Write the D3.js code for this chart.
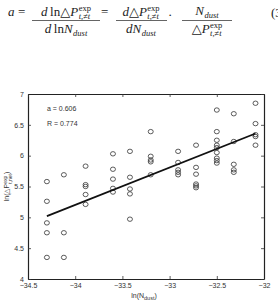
<!DOCTYPE html>
<html>
<head>
<meta charset="utf-8">
<script src="https://cdn.jsdelivr.net/npm/d3@7"></script>
<style>
  body { margin: 0; background: #fff; }
  svg { display: block; }
</style>
</head>
<body>
<svg width="278" height="305"></svg>
<script>
// ln(N_dust) columns and ln(dP) values
var lnN = [
  -34.30, -34.30, -34.30, -34.30, -34.30,
  -34.12, -34.12, -34.12,
  -33.89, -33.89, -33.89, -33.89, -33.89,
  -33.60, -33.60, -33.60, -33.60, -33.60,
  -33.42, -33.42, -33.42, -33.42, -33.42,
  -33.20, -33.20, -33.20, -33.20, -33.20,
  -32.91, -32.91, -32.91, -32.91, -32.91,
  -32.72, -32.72, -32.72, -32.72, -32.72, -32.72,
  -32.50, -32.50, -32.50, -32.50, -32.50, -32.50, -32.50, -32.50, -32.50,
  -32.32, -32.32, -32.32, -32.32, -32.32,
  -32.09, -32.09, -32.09, -32.09, -32.09
];
var lnP = [
  5.58, 5.26, 4.91, 4.75, 4.35,
  5.69, 4.75, 4.35,
  5.83, 5.53, 5.50, 5.37, 5.21,
  6.03, 5.78, 5.62, 5.47, 5.41,
  6.07, 5.65, 5.46, 5.38, 4.97,
  6.39, 5.99, 5.93, 5.90, 5.69,
  6.07, 5.89, 5.77, 5.73, 5.69,
  6.17, 5.81, 5.70, 5.54, 5.51, 5.48,
  6.74, 6.39, 6.25, 6.17, 6.13, 6.05, 5.96, 5.92, 5.88,
  6.68, 6.23, 5.86, 5.77, 5.73,
  6.85, 6.52, 6.34, 6.31, 6.17
];

var fitRange = [-34.30, -32.09];
var slope = 0.606;
var intercept = 25.806;
var notes = ['a = 0.606', 'R = 0.774'];

var xTicks = [-34.5, -34, -33.5, -33, -32.5, -32];
var yTicks = [4, 4.5, 5, 5.5, 6, 6.5, 7];

var svg = d3.select('svg');

// ---- equation at the top ----
var serif = 'Liberation Serif, DejaVu Serif, serif';
var eq = svg.append('g').attr('font-family', serif).attr('fill', '#222');
var FS = 13, SS = 8.5;

function measure(str, size, italic) {
  var t = eq.append('text').attr('font-size', size)
    .attr('font-style', italic ? 'italic' : 'normal').text(str);
  var w = t.node().getComputedTextLength();
  t.remove();
  return w;
}

function tokenWidth(tok) {
  var w = measure(tok.t, FS, tok.i);
  var s = 0;
  if (tok.sup) s = Math.max(s, measure(tok.sup, SS, false));
  if (tok.sub) s = Math.max(s, measure(tok.sub, SS, true));
  return w + s + (s ? 0.5 : 0);
}

function drawExpr(cx, yb, tokens) {
  var total = d3.sum(tokens, tokenWidth);
  var xp = cx - total / 2;
  tokens.forEach(function (tok) {
    eq.append('text').attr('x', xp).attr('y', yb).attr('font-size', FS)
      .attr('font-style', tok.i ? 'italic' : 'normal')
      .attr('xml:space', 'preserve').text(tok.t);
    var w = measure(tok.t, FS, tok.i);
    if (tok.sup) {
      eq.append('text').attr('x', xp + w + 0.5).attr('y', yb - 5.5).attr('font-size', SS).text(tok.sup);
    }
    if (tok.sub) {
      eq.append('text').attr('x', xp + w + 0.5).attr('y', yb + 3).attr('font-size', SS)
        .attr('font-style', 'italic').text(tok.sub);
    }
    xp += tokenWidth(tok);
  });
}

var Pexp = {t: 'P', i: true, sup: 'exp', sub: 't,\u2260t'};
var Nd = {t: 'N', i: true, sub: 'dust'};
var dd = {t: 'd', i: true};
var ln = {t: '\u2009ln', i: false};
var tri = {t: '\u25B3', i: false};

eq.append('text').attr('x', 8).attr('y', 16).attr('font-size', FS)
  .attr('font-style', 'italic').text('a');
eq.append('text').attr('x', 18).attr('y', 16).attr('font-size', FS).text('=');

drawExpr(66, 16, [dd, ln, tri, Pexp]);
eq.append('line').attr('x1', 32).attr('x2', 100).attr('y1', 20.5).attr('y2', 20.5)
  .attr('stroke', '#222').attr('stroke-width', 0.7);
drawExpr(66, 33, [dd, ln, Nd]);

eq.append('text').attr('x', 101).attr('y', 16).attr('font-size', FS).text('=');

drawExpr(141, 16, [dd, tri, Pexp]);
eq.append('line').attr('x1', 116).attr('x2', 167).attr('y1', 20.5).attr('y2', 20.5)
  .attr('stroke', '#222').attr('stroke-width', 0.7);
drawExpr(141, 33, [dd, Nd]);

eq.append('text').attr('x', 168).attr('y', 19).attr('font-size', FS).text('\u00B7');

drawExpr(207, 14.5, [Nd]);
eq.append('line').attr('x1', 182).attr('x2', 232).attr('y1', 20.5).attr('y2', 20.5)
  .attr('stroke', '#222').attr('stroke-width', 0.7);
drawExpr(207, 33, [tri, Pexp]);

eq.append('text').attr('x', 271).attr('y', 17).attr('font-size', FS).text('(3');

// ---- scatter plot ----
var mLeft = 28, mRight = 264, mTop = 94, mBottom = 279;
var x = d3.scaleLinear().domain([-34.5, -32]).range([mLeft, mRight]);
var y = d3.scaleLinear().domain([4, 7]).range([mBottom, mTop]);

var sans = 'Liberation Sans, Arial, sans-serif';
var plot = svg.append('g').attr('font-family', sans);

var xAxis = d3.axisBottom(x).tickValues(xTicks).tickSizeInner(-3).tickSizeOuter(0)
  .tickPadding(4).tickFormat(d3.format('~g'));
var yAxis = d3.axisLeft(y).tickValues(yTicks).tickSizeInner(-3).tickSizeOuter(0)
  .tickPadding(4).tickFormat(d3.format('~g'));

plot.append('g').attr('transform', 'translate(0,' + mBottom + ')').call(xAxis);
plot.append('g').attr('transform', 'translate(' + mLeft + ',0)').call(yAxis);
plot.append('g').attr('transform', 'translate(0,' + mTop + ')')
  .call(d3.axisTop(x).tickValues(xTicks).tickSizeInner(-3).tickSizeOuter(0).tickFormat(''));
plot.append('g').attr('transform', 'translate(' + mRight + ',0)')
  .call(d3.axisRight(y).tickValues(yTicks).tickSizeInner(-3).tickSizeOuter(0).tickFormat(''));

plot.selectAll('.domain').attr('stroke', '#222').attr('stroke-width', 1.2);
plot.selectAll('.tick line').attr('stroke', '#333').attr('stroke-width', 0.8);
plot.selectAll('.tick text').attr('font-size', 7).attr('fill', '#333');

var pts = lnN.map(function (v, i) { return {n: v, p: lnP[i]}; });
plot.selectAll('ellipse.pt').data(pts).enter().append('ellipse')
  .attr('class', 'pt')
  .attr('cx', function (d) { return x(d.n); })
  .attr('cy', function (d) { return y(d.p); })
  .attr('rx', 2.5)
  .attr('ry', 2.2)
  .attr('fill', 'none')
  .attr('stroke', '#333')
  .attr('stroke-width', 0.8);

var fitLine = d3.line()
  .x(function (d) { return x(d); })
  .y(function (d) { return y(slope * d + intercept); });
plot.append('path').datum(fitRange).attr('d', fitLine)
  .attr('fill', 'none').attr('stroke', '#111').attr('stroke-width', 1.8);

plot.selectAll('text.note').data(notes).enter().append('text')
  .attr('class', 'note')
  .attr('x', 47)
  .attr('y', function (d, i) { return 111 + i * 15; })
  .attr('font-size', 7).attr('fill', '#333')
  .text(function (d) { return d; });

// axis titles
var xl = plot.append('text').attr('x', 144).attr('y', 298).attr('font-size', 7)
  .attr('text-anchor', 'middle').attr('fill', '#333');
xl.append('tspan').text('ln(N');
xl.append('tspan').attr('font-size', 5.5).attr('dy', 2).text('dust');
xl.append('tspan').attr('dy', -2).text(')');

var yl = plot.append('text').attr('transform', 'translate(9,' + ((mTop + mBottom) / 2) + ') rotate(-90)')
  .attr('font-size', 7).attr('text-anchor', 'middle').attr('fill', '#333');
yl.append('tspan').text('ln(\u25B3P');
yl.append('tspan').attr('font-size', 5).attr('dy', -2.5).text('exp');
yl.append('tspan').attr('font-size', 5).attr('dx', -8).attr('dy', 5).text('t,net');
yl.append('tspan').attr('dy', -2.5).text(')');
</script>
</body>
</html>
